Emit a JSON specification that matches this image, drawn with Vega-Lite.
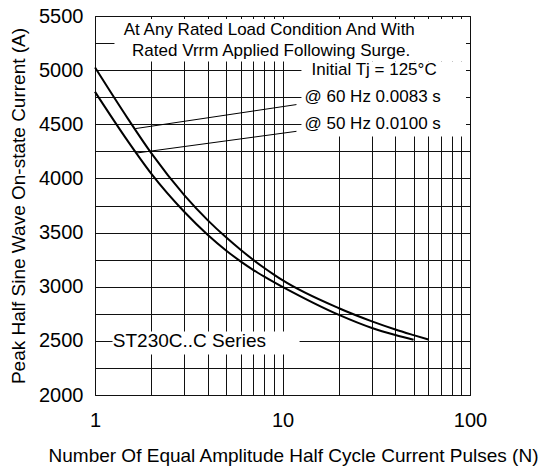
{
  "$schema": "https://vega.github.io/schema/vega-lite/v6.json",
  "width": 375,
  "height": 379,
  "autosize": "none",
  "padding": {"left": 95, "top": 16, "right": 74, "bottom": 75},
  "background": "white",
  "config": {
    "font": "Liberation Sans",
    "view": {"stroke": "#000", "strokeWidth": 1},
    "axis": {
      "labelFont": "Liberation Sans",
      "labelFontSize": 20,
      "labelColor": "#000",
      "titleFont": "Liberation Sans",
      "titleFontSize": 19,
      "titleFontWeight": "normal",
      "titleColor": "#000",
      "grid": true,
      "gridColor": "#111",
      "gridOpacity": 1,
      "gridWidth": 1,
      "domain": false,
      "ticks": false
    }
  },
  "datasets": {
    "curves": [
      {"n": 1, "current": 5025, "series": "60 Hz"},
      {"n": 1.5, "current": 4550, "series": "60 Hz"},
      {"n": 2, "current": 4231, "series": "60 Hz"},
      {"n": 3, "current": 3844, "series": "60 Hz"},
      {"n": 4, "current": 3613, "series": "60 Hz"},
      {"n": 5, "current": 3456, "series": "60 Hz"},
      {"n": 6, "current": 3339, "series": "60 Hz"},
      {"n": 7, "current": 3247, "series": "60 Hz"},
      {"n": 8, "current": 3173, "series": "60 Hz"},
      {"n": 9, "current": 3112, "series": "60 Hz"},
      {"n": 10, "current": 3060, "series": "60 Hz"},
      {"n": 20, "current": 2801, "series": "60 Hz"},
      {"n": 30, "current": 2680, "series": "60 Hz"},
      {"n": 40, "current": 2605, "series": "60 Hz"},
      {"n": 50, "current": 2553, "series": "60 Hz"},
      {"n": 60, "current": 2512, "series": "60 Hz"},
      {"n": 1, "current": 4800, "series": "50 Hz"},
      {"n": 1.5, "current": 4342, "series": "50 Hz"},
      {"n": 2, "current": 4042, "series": "50 Hz"},
      {"n": 3, "current": 3690, "series": "50 Hz"},
      {"n": 4, "current": 3478, "series": "50 Hz"},
      {"n": 5, "current": 3335, "series": "50 Hz"},
      {"n": 6, "current": 3232, "series": "50 Hz"},
      {"n": 7, "current": 3154, "series": "50 Hz"},
      {"n": 8, "current": 3093, "series": "50 Hz"},
      {"n": 9, "current": 3042, "series": "50 Hz"},
      {"n": 10, "current": 2999, "series": "50 Hz"},
      {"n": 20, "current": 2740, "series": "50 Hz"},
      {"n": 30, "current": 2619, "series": "50 Hz"},
      {"n": 40, "current": 2554, "series": "50 Hz"},
      {"n": 50, "current": 2510, "series": "50 Hz"}
    ],
    "leaders": [
      {"n": 1.64, "current": 4460, "id": "a"},
      {"n": 11.87, "current": 4682, "id": "a"},
      {"n": 1.672, "current": 4235, "id": "b"},
      {"n": 11.87, "current": 4435, "id": "b"}
    ],
    "boxes": [
      {"n": 1.27, "n2": 95.2, "current": 5080, "current2": 5472},
      {"n": 12.62, "n2": 95.2, "current": 4387, "current2": 5080},
      {"n": 1.24, "n2": 12.33, "current": 2374, "current2": 2586}
    ],
    "centerLabels": [
      {"n": 8.5, "current": 5375, "text": "At Any Rated Load Condition And With", "size": 17},
      {"n": 8.7, "current": 5175, "text": "Rated Vrrm Applied Following Surge.", "size": 17}
    ],
    "leftLabels": [
      {"n": 13.1, "current": 4750, "text": "@ 60 Hz 0.0083 s", "size": 17},
      {"n": 13.1, "current": 4500, "text": "@ 50 Hz 0.0100 s", "size": 17},
      {"n": 1.245, "current": 2500, "text": "ST230C..C Series", "size": 19}
    ],
    "rightLabels": [
      {"n": 66.4, "current": 5000, "text": "Initial Tj = 125°C", "size": 17}
    ]
  },
  "encoding": {
    "x": {
      "field": "n",
      "type": "quantitative",
      "scale": {"type": "log", "domain": [1, 100], "nice": false},
      "axis": {
        "title": "Number Of Equal Amplitude Half Cycle Current Pulses (N)",
        "values": [1, 2, 3, 4, 5, 6, 7, 8, 9, 10, 20, 30, 40, 50, 60, 70, 80, 90, 100],
        "labelExpr": "datum.value == 1 || datum.value == 10 || datum.value == 100 ? format(datum.value, 'd') : ''",
        "labelOverlap": false,
        "labelFlush": false,
        "labelBound": false,
        "labelPadding": 15,
        "titlePadding": 16,
        "titleX": 198
      }
    },
    "y": {
      "field": "current",
      "type": "quantitative",
      "scale": {"domain": [2000, 5500], "nice": false, "zero": false},
      "axis": {
        "title": "Peak Half Sine Wave On-state Current (A)",
        "values": [2000, 2250, 2500, 2750, 3000, 3250, 3500, 3750, 4000, 4250, 4500, 4750, 5000, 5250, 5500],
        "labelExpr": "datum.value % 500 == 0 ? format(datum.value, 'd') : ''",
        "labelOverlap": false,
        "labelPadding": 12,
        "titlePadding": 10
      }
    }
  },
  "layer": [
    {
      "data": {"name": "boxes"},
      "mark": {"type": "rect", "fill": "white", "stroke": null},
      "encoding": {
        "x2": {"field": "n2"},
        "y2": {"field": "current2"}
      }
    },
    {
      "data": {"name": "curves"},
      "mark": {"type": "line", "color": "#000", "strokeWidth": 2, "interpolate": "monotone"},
      "encoding": {"detail": {"field": "series"}}
    },
    {
      "data": {"name": "leaders"},
      "mark": {"type": "line", "color": "#000", "strokeWidth": 1},
      "encoding": {"detail": {"field": "id"}}
    },
    {
      "data": {"name": "centerLabels"},
      "mark": {"type": "text", "align": "center", "baseline": "middle", "font": "Liberation Sans", "color": "#000"},
      "encoding": {
        "text": {"field": "text"},
        "size": {"field": "size", "type": "quantitative", "scale": null}
      }
    },
    {
      "data": {"name": "leftLabels"},
      "mark": {"type": "text", "align": "left", "baseline": "middle", "font": "Liberation Sans", "color": "#000"},
      "encoding": {
        "text": {"field": "text"},
        "size": {"field": "size", "type": "quantitative", "scale": null}
      }
    },
    {
      "data": {"name": "rightLabels"},
      "mark": {"type": "text", "align": "right", "baseline": "middle", "font": "Liberation Sans", "color": "#000"},
      "encoding": {
        "text": {"field": "text"},
        "size": {"field": "size", "type": "quantitative", "scale": null}
      }
    }
  ]
}
